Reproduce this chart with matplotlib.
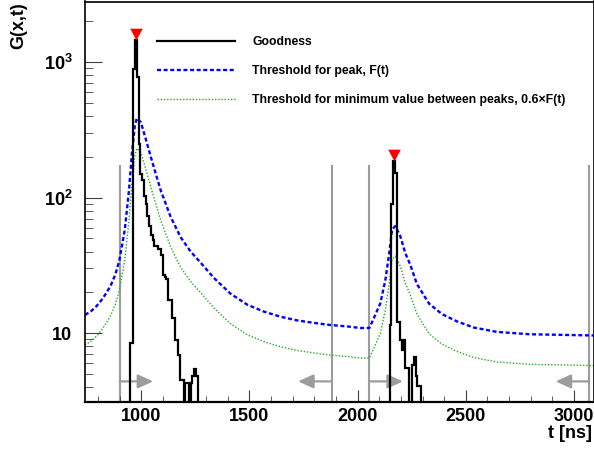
import numpy as np
import matplotlib
matplotlib.use("Agg")
import matplotlib.pyplot as plt
from matplotlib.lines import Line2D
from matplotlib.ticker import MultipleLocator, LogLocator, FixedLocator, FuncFormatter, NullFormatter

plt.rcParams["font.family"] = ["Liberation Sans", "DejaVu Sans"]
plt.rcParams["mathtext.fontset"] = "custom"
plt.rcParams["mathtext.rm"] = "Liberation Sans:bold"
plt.rcParams["mathtext.bf"] = "Liberation Sans:bold"

# axis ranges
T_MIN, T_MAX = 740, 3090
Y_MIN, Y_MAX = 3.1, 2800

# goodness histogram, 8 ns bins
BIN_WIDTH = 8
peak1_start = 948
peak1_counts = [8.5, 8.5, 890, 1450, 775, 250, 150, 134, 102, 89, 73, 62, 53, 49,
                44, 44, 42, 42, 38, 27, 26, 25, 17.5, 17.5, 12.9, 12.9, 8.9, 8.9,
                6.9, 4.5, 4.5, 0, 4.3, 4.3, 0, 4.3, 4.8, 5.4, 4.8]
peak2_start = 2148
peak2_counts = [11.5, 89, 185, 152, 12, 12, 8.9, 7.5, 8.9, 5.5, 5.5, 0, 0,
                5.8, 6.7, 4.8, 4.1, 4.1]

# found peaks
peak_times = [976, 2168]
peak_values = [1450, 185]

# threshold F(t)
f_times = [740, 770, 793, 816, 839, 859, 880, 898, 924, 943, 956, 970, 979,
           998, 1021, 1044, 1067, 1090, 1136, 1182, 1228, 1275, 1336, 1413,
           1490, 1567, 1644, 1721, 1797, 1867, 1952, 2013, 2054, 2074, 2105,
           2128, 2148, 2159, 2174, 2197, 2220, 2243, 2274, 2330, 2390, 2459,
           2536, 2644, 2797, 2951, 3090]
f_values = [13.6, 14.6, 15.8, 17.5, 19.8, 22.5, 27, 34, 58, 112, 205, 335, 385,
            360, 270, 200, 150, 113, 72, 51, 40, 33, 25.5, 19.5,
            16.2, 14.4, 13.2, 12.4, 11.9, 11.5, 11.2, 10.9, 10.9, 12.8, 16.6,
            24.6, 41, 58, 61.6, 52, 39, 32, 23, 16.5, 13.8, 12.2,
            11.0, 10.2, 9.8, 9.7, 9.6]
min_factor = 0.6

# search windows
window_edges = [900, 1880, 2054, 3070]
window_dirs = [1, -1, 1, -1]
window_top = 175
arrow_len = 155
arrow_level = 4.4

fig = plt.figure(figsize=(5.94, 4.5), dpi=100)
ax = fig.add_axes([85 / 594, 48 / 450, 508.5 / 594, 400.5 / 450])

gray = "#9c9c9c"
ax.vlines(window_edges, 1, window_top, color=gray, lw=1.5, zorder=1)
for x, d in zip(window_edges, window_dirs):
    ax.annotate("", xy=(x + d * arrow_len, arrow_level), xytext=(x, arrow_level),
                arrowprops=dict(arrowstyle="-|>,head_length=0.46,head_width=0.21",
                                color=gray, lw=1.6, shrinkA=0, shrinkB=0,
                                mutation_scale=20), zorder=1)

edges = np.arange(T_MIN, T_MAX + BIN_WIDTH, BIN_WIDTH)
counts = np.zeros(len(edges) - 1)
i1 = (peak1_start - T_MIN) // BIN_WIDTH
counts[i1:i1 + len(peak1_counts)] = peak1_counts
i2 = (peak2_start - T_MIN) // BIN_WIDTH
counts[i2:i2 + len(peak2_counts)] = peak2_counts
counts = np.where(counts > 0, counts, 0.5)
ax.stairs(counts, edges, color="black", lw=1.6, baseline=None, zorder=3)

f_values = np.array(f_values)
ax.plot(f_times, f_values, color="#0000ff", lw=1.7, dashes=(1.7, 1.1), zorder=2)
ax.plot(f_times, min_factor * f_values, color="#22aa22", lw=1.0, dashes=(1, 1.3), zorder=2)

tri = [(-0.53, 1), (0.53, 1), (0, 0)]
ax.plot(peak_times, peak_values, linestyle="none", marker=tri, markersize=17,
        color="red", markeredgewidth=0, zorder=4)

ax.set_xlim(T_MIN, T_MAX)
ax.set_yscale("log")
ax.set_ylim(Y_MIN, Y_MAX)

ax.xaxis.set_major_locator(MultipleLocator(500))
ax.xaxis.set_minor_locator(MultipleLocator(100))
ax.yaxis.set_major_locator(FixedLocator([10, 100, 1000]))
ax.yaxis.set_minor_locator(LogLocator(base=10, subs=np.arange(2, 10)))
ax.yaxis.set_minor_formatter(NullFormatter())


def ylab(v, pos):
    if v == 10:
        return "10"
    return r"$\mathbf{10^{%d}}$" % int(round(np.log10(v)))


ax.yaxis.set_major_formatter(FuncFormatter(ylab))
ax.tick_params(axis="both", which="both", direction="in", top=False, right=False,
               labelsize=13, color="#404040")
ax.tick_params(axis="x", which="major", length=8.5, pad=4)
ax.tick_params(axis="x", which="minor", length=4.2)
ax.tick_params(axis="y", which="major", length=12, pad=9)
ax.tick_params(axis="y", which="minor", length=6)
for lab in ax.get_xticklabels() + ax.get_yticklabels():
    lab.set_fontweight("bold")
for sp in ax.spines.values():
    sp.set_linewidth(1.2)
ax.spines["bottom"].set_linewidth(1.6)

handles = [Line2D([], [], color="black", lw=1.6),
           Line2D([], [], color="#0000ff", lw=1.7, dashes=(1.7, 1.1)),
           Line2D([], [], color="#22aa22", lw=1.0, dashes=(1, 1.3))]
labels = ["Goodness", "Threshold for peak, F(t)",
          "Threshold for minimum value between peaks, 0.6\u00d7F(t)"]
leg = ax.legend(handles, labels, loc="upper left", bbox_to_anchor=(157 / 594, 1 - 36 / 450),
                bbox_transform=fig.transFigure, frameon=False, borderpad=0,
                borderaxespad=0, handlelength=6.4, handletextpad=1.4,
                labelspacing=1.4, prop=dict(size=8.8, weight="bold"))

fig.text(19 / 594, 1 - 2 / 450, "G(x,t)", rotation=90, ha="center", va="top",
         fontsize=13, fontweight="bold")
fig.text(592 / 594, 1 - 434 / 450, "t [ns]", ha="right", va="center",
         fontsize=13, fontweight="bold")

fig.savefig("out.png", dpi=100)
